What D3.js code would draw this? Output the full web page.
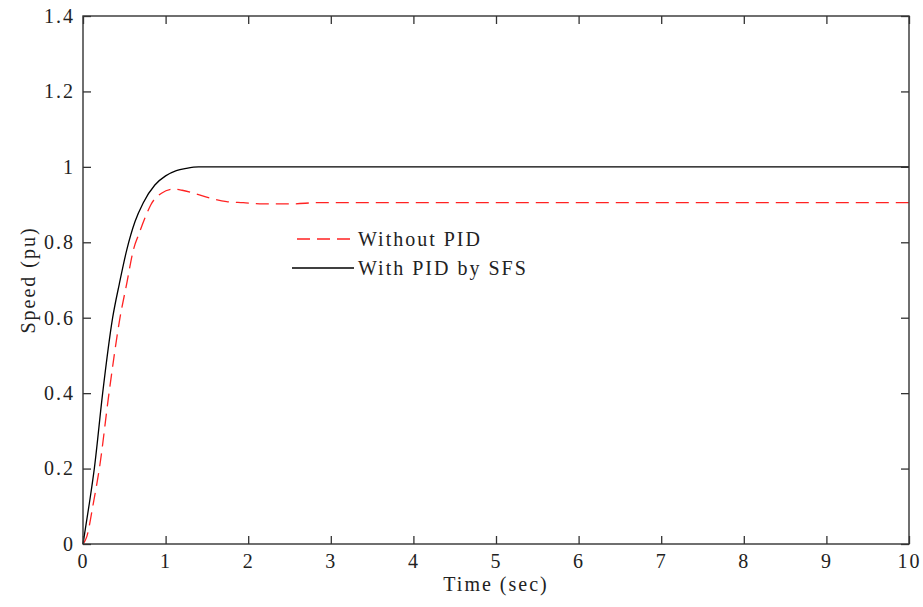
<!DOCTYPE html>
<html>
<head>
<meta charset="utf-8">
<script src="https://cdn.jsdelivr.net/npm/d3@7"></script>
<style>
  html, body { margin: 0; padding: 0; background: #fff; }
  svg text { font-family: "Liberation Serif", "Times New Roman", serif; fill: #222; }
</style>
</head>
<body>
<svg id="chart" width="923" height="607"></svg>
<script>
// ---- data ----
const xTicks = [0, 1, 2, 3, 4, 5, 6, 7, 8, 9, 10];
const yTicks = [0, 0.2, 0.4, 0.6, 0.8, 1, 1.2, 1.4];
const yTickLabels = ["0", "0.2", "0.4", "0.6", "0.8", "1", "1.2", "1.4"];

const timeNoPID  = [0, 0.045, 0.125, 0.198, 0.315, 0.448, 0.53, 0.61, 0.68, 0.77, 0.82, 0.95, 1.1, 1.2, 1.34, 1.54, 1.74, 1.94, 2.14, 2.55, 2.83, 10];
const speedNoPID = [0, 0.019, 0.108, 0.2, 0.4, 0.6, 0.691, 0.78, 0.824, 0.875, 0.899, 0.93, 0.941, 0.938, 0.93, 0.917, 0.908, 0.905, 0.902, 0.902, 0.905, 0.905];

const timePID  = [0, 0.077, 0.137, 0.238, 0.359, 0.44, 0.53, 0.63, 0.73, 0.87, 1.0, 1.13, 1.25, 1.4, 10];
const speedPID = [0, 0.108, 0.2, 0.4, 0.6, 0.69, 0.78, 0.855, 0.905, 0.952, 0.976, 0.99, 0.996, 1.0, 1.0];

const seriesNames = ["Without PID", "With PID by SFS"];

// ---- layout ----
const svg = d3.select("#chart");
const L = 83, R = 909, T = 16, B = 544;
const x = d3.scaleLinear().domain([0, 10]).range([L, R]);
const y = d3.scaleLinear().domain([0, 1.4]).range([B, T]);
const axisColor = "#333";
const fontSize = "20px";
const ls = "2px";

// curves
const line = d3.line().x(d => x(d[0])).y(d => y(d[1])).curve(d3.curveMonotoneX);
const redData = timeNoPID.map((t, i) => [t, speedNoPID[i]]);
const blackData = timePID.map((t, i) => [t, speedPID[i]]);

svg.append("path").attr("d", line(blackData))
  .attr("fill", "none").attr("stroke", "#000").attr("stroke-width", 1.3);
svg.append("path").attr("d", line(redData))
  .attr("fill", "none").attr("stroke", "#f22").attr("stroke-width", 1.3)
  .attr("stroke-dasharray", "13,7");

// frame
svg.append("rect").attr("x", L).attr("y", T).attr("width", R - L).attr("height", B - T)
  .attr("fill", "none").attr("stroke", axisColor).attr("stroke-width", 1.4);

// axes with inward ticks
const tk = 8;
svg.append("g").attr("transform", `translate(0,${B})`)
  .call(d3.axisBottom(x).tickValues(xTicks).tickSizeInner(-tk).tickSizeOuter(0).tickPadding(24).tickFormat(d3.format("d")))
  .call(g => g.select(".domain").remove())
  .call(g => g.selectAll("line").attr("stroke", axisColor).attr("stroke-width", 1.3))
  .call(g => g.selectAll("text").attr("font-size", fontSize).attr("font-family", "Liberation Serif").attr("fill", "#222").attr("letter-spacing", ls).attr("dy", "0"));
svg.append("g").attr("transform", `translate(0,${T})`)
  .call(d3.axisTop(x).tickValues(xTicks).tickSizeInner(-tk).tickSizeOuter(0).tickFormat(""))
  .call(g => g.select(".domain").remove())
  .call(g => g.selectAll("line").attr("stroke", axisColor).attr("stroke-width", 1.3));
svg.append("g").attr("transform", `translate(${L},0)`)
  .call(d3.axisLeft(y).tickValues(yTicks).tickSizeInner(-tk).tickSizeOuter(0).tickPadding(8).tickFormat((d, i) => yTickLabels[i]))
  .call(g => g.select(".domain").remove())
  .call(g => g.selectAll("line").attr("stroke", axisColor).attr("stroke-width", 1.3))
  .call(g => g.selectAll("text").attr("font-size", fontSize).attr("font-family", "Liberation Serif").attr("fill", "#222").attr("letter-spacing", ls));
svg.append("g").attr("transform", `translate(${R},0)`)
  .call(d3.axisRight(y).tickValues(yTicks).tickSizeInner(-tk).tickSizeOuter(0).tickFormat(""))
  .call(g => g.select(".domain").remove())
  .call(g => g.selectAll("line").attr("stroke", axisColor).attr("stroke-width", 1.3));

// axis labels
svg.append("text").attr("x", (L + R) / 2).attr("y", 591)
  .attr("text-anchor", "middle").attr("font-size", fontSize).attr("letter-spacing", ls)
  .text("Time (sec)");
svg.append("text").attr("transform", `translate(35,${(T + B) / 2}) rotate(-90)`)
  .attr("text-anchor", "middle").attr("font-size", fontSize).attr("letter-spacing", ls)
  .text("Speed (pu)");

// legend
const legend = svg.append("g");
legend.append("line").attr("x1", 297).attr("x2", 354).attr("y1", 239).attr("y2", 239)
  .attr("stroke", "#f22").attr("stroke-width", 1.3).attr("stroke-dasharray", "13,7");
legend.append("text").attr("x", 358).attr("y", 246).attr("font-size", fontSize).attr("letter-spacing", ls)
  .text(seriesNames[0]);
legend.append("line").attr("x1", 292).attr("x2", 354).attr("y1", 268).attr("y2", 268)
  .attr("stroke", "#000").attr("stroke-width", 1.3);
legend.append("text").attr("x", 358).attr("y", 275).attr("font-size", fontSize).attr("letter-spacing", ls)
  .text(seriesNames[1]);
</script>
</body>
</html>
